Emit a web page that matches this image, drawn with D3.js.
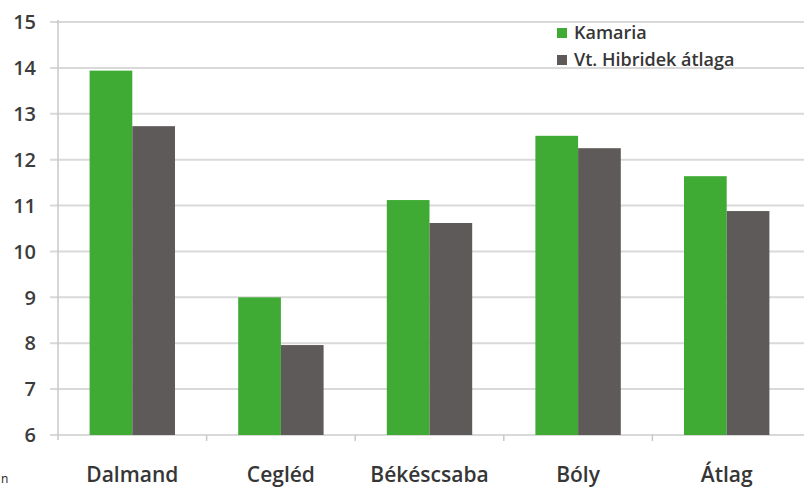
<!DOCTYPE html>
<html><head><meta charset="utf-8">
<script src="https://cdn.jsdelivr.net/npm/d3@7"></script>
<style>body{margin:0;background:#fff}svg{display:block}</style>
</head><body>
<svg id="c" width="804" height="488"></svg>
<script>
const categories = ["Dalmand", "Cegléd", "Békéscsaba", "Bóly", "Átlag"];
const seriesNames = ["Kamaria", "Vt. Hibridek átlaga"];
const kamaria = [13.94, 9.0, 11.12, 12.52, 11.64];
const hibridek = [12.73, 7.96, 10.62, 12.25, 10.88];
const yTicks = [6, 7, 8, 9, 10, 11, 12, 13, 14, 15];
const colors = ["#3fab35", "#5e5a59"];

const svg = d3.select("#c");
const x0 = 58, x1 = 801, yTop = 22, yBot = 435;
const font = "'Open Sans', Lato, sans-serif";

const x = d3.scaleBand().domain(categories).range([x0, x1]).paddingInner(0).paddingOuter(0);
const xs = d3.scaleBand().domain(seriesNames).range([0, x.bandwidth()]).paddingInner(0).paddingOuter(0.74);
const y = d3.scaleLinear().domain([6, 15]).range([yBot, yTop]);

// gridlines
svg.append("g").selectAll("line").data(yTicks).join("line")
  .attr("x1", 50).attr("x2", 804)
  .attr("y1", d => y(d)).attr("y2", d => y(d))
  .attr("stroke", "#d9d9d9").attr("stroke-width", 2);

// y axis line
svg.append("line").attr("x1", x0).attr("x2", x0).attr("y1", yTop - 2).attr("y2", yBot + 5)
  .attr("stroke", "#c8c8c8").attr("stroke-width", 1.5);

// x category ticks
svg.append("g").selectAll("line").data(categories.slice(1)).join("line")
  .attr("x1", d => x(d)).attr("x2", d => x(d))
  .attr("y1", yBot).attr("y2", yBot + 6)
  .attr("stroke", "#c8c8c8").attr("stroke-width", 1.5);

// y tick labels
svg.append("g").selectAll("text").data(yTicks).join("text")
  .attr("x", 36).attr("y", d => y(d)).attr("dy", "0.36em")
  .attr("text-anchor", "end").attr("font-family", font).attr("font-size", 20).attr("font-weight", 600)
  .attr("fill", "#3c3c3c").text(d => d);

// bars
const data = [kamaria, hibridek];
data.forEach((vals, si) => {
  svg.append("g").selectAll("rect").data(vals).join("rect")
    .attr("x", (d, i) => x(categories[i]) + xs(seriesNames[si]))
    .attr("width", xs.bandwidth())
    .attr("y", d => y(d))
    .attr("height", d => y(6) - y(d))
    .attr("fill", colors[si]);
});

// x labels
svg.append("g").selectAll("text").data(categories).join("text")
  .attr("x", d => x(d) + x.bandwidth() / 2).attr("y", 482)
  .attr("text-anchor", "middle").attr("font-family", font).attr("font-size", 21).attr("font-weight", 600)
  .attr("fill", "#363636").text(d => d);

// legend
const lg = svg.append("g");
seriesNames.forEach((n, i) => {
  const ly = 33 + i * 27;
  lg.append("rect").attr("x", 557).attr("y", ly - 5).attr("width", 10).attr("height", 10).attr("fill", colors[i]);
  lg.append("text").attr("x", 574).attr("y", ly).attr("dy", "0.36em")
    .attr("font-family", font).attr("font-size", 18).attr("font-weight", 600).attr("fill", "#363636").text(n);
});

// stray glyph at bottom-left
svg.append("text").attr("x", 1).attr("y", 483).attr("font-family", font).attr("font-size", 12).attr("fill", "#222").text("n");
</script>
</body></html>
